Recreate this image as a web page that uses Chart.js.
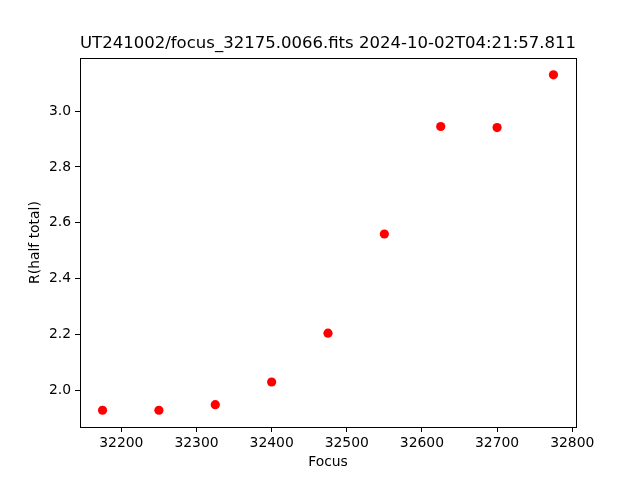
<!DOCTYPE html>
<html>
<head>
<meta charset="utf-8">
<script src="https://cdn.jsdelivr.net/npm/chart.js@4/dist/chart.umd.min.js"></script>
<style>
html,body{margin:0;padding:0;background:#fff;}
#c{display:block;}
</style>
</head>
<body>
<canvas id="c" width="640" height="480"></canvas>
<script>
const focusValues = [32175, 32250, 32325, 32400, 32475, 32550, 32625, 32700, 32775];
const rHalfTotal = [1.929, 1.929, 1.949, 2.030, 2.205, 2.560, 2.945, 2.941, 3.130];
const xTickValues = [32200, 32300, 32400, 32500, 32600, 32700, 32800];
const yTickValues = [2.0, 2.2, 2.4, 2.6, 2.8, 3.0];
const titleText = 'UT241002/focus_32175.0066.fits 2024-10-02T04:21:57.811';
const xLabel = 'Focus';
const yLabel = 'R(half total)';

const FONT = 'DejaVu Sans';
const points = focusValues.map((x, i) => ({x: x, y: rHalfTotal[i]}));

const xMin = Math.min(...focusValues), xMax = Math.max(...focusValues);
const yMin = Math.min(...rHalfTotal), yMax = Math.max(...rHalfTotal);
const xm = (xMax - xMin) * 0.05, ym = (yMax - yMin) * 0.05;

const frame = {
  id: 'frame',
  afterDraw(chart) {
    const a = chart.chartArea, ctx = chart.ctx;
    ctx.save();
    ctx.strokeStyle = '#000';
    ctx.lineWidth = 1;
    ctx.strokeRect(Math.round(a.left) + 0.5, Math.round(a.top) + 0.5,
                   Math.round(a.right - a.left), Math.round(a.bottom - a.top));
    ctx.restore();
  }
};

new Chart(document.getElementById('c'), {
  type: 'scatter',
  data: {
    datasets: [{
      data: points,
      backgroundColor: '#ff0000',
      borderColor: '#ff0000',
      pointRadius: 4.6,
      pointHoverRadius: 4.6,
      borderWidth: 0
    }]
  },
  options: {
    responsive: false,
    animation: false,
    devicePixelRatio: 1,
    layout: {padding: {left: 0, right: 64, top: 0, bottom: 0}},
    plugins: {
      legend: {display: false},
      tooltip: {enabled: false},
      title: {
        display: true,
        fullSize: false,
        text: titleText,
        color: '#000',
        font: {family: FONT, size: 16.7, weight: 'normal'},
        padding: {top: 34, bottom: 4}
      }
    },
    scales: {
      x: {
        type: 'linear',
        min: xMin - xm,
        max: xMax + xm,
        afterBuildTicks(s) { s.ticks = xTickValues.map(v => ({value: v})); },
        afterFit(s) { s.height = 53; },
        grid: {display: true, drawOnChartArea: false, drawTicks: true, tickLength: 5, tickColor: '#000'},
        border: {display: true, color: '#000', width: 1},
        ticks: {color: '#000', font: {family: FONT, size: 13.9}, padding: 3, maxRotation: 0, autoSkip: false,
                callback: v => String(v)},
        title: {display: true, text: xLabel, color: '#000', font: {family: FONT, size: 13.9},
                padding: {top: 0, bottom: 9.7}}
      },
      y: {
        type: 'linear',
        min: yMin - ym,
        max: yMax + ym,
        afterBuildTicks(s) { s.ticks = yTickValues.map(v => ({value: v})); },
        afterFit(s) { s.width = 80; },
        grid: {display: true, drawOnChartArea: false, drawTicks: true, tickLength: 5, tickColor: '#000'},
        border: {display: true, color: '#000', width: 1},
        ticks: {color: '#000', font: {family: FONT, size: 13.9}, padding: 4, autoSkip: false,
                callback: v => Number(v).toFixed(1)},
        title: {display: true, text: yLabel, color: '#000', font: {family: FONT, size: 13.9},
                padding: {top: 26.7, bottom: 0}}
      }
    }
  },
  plugins: [frame]
});
</script>
</body>
</html>
